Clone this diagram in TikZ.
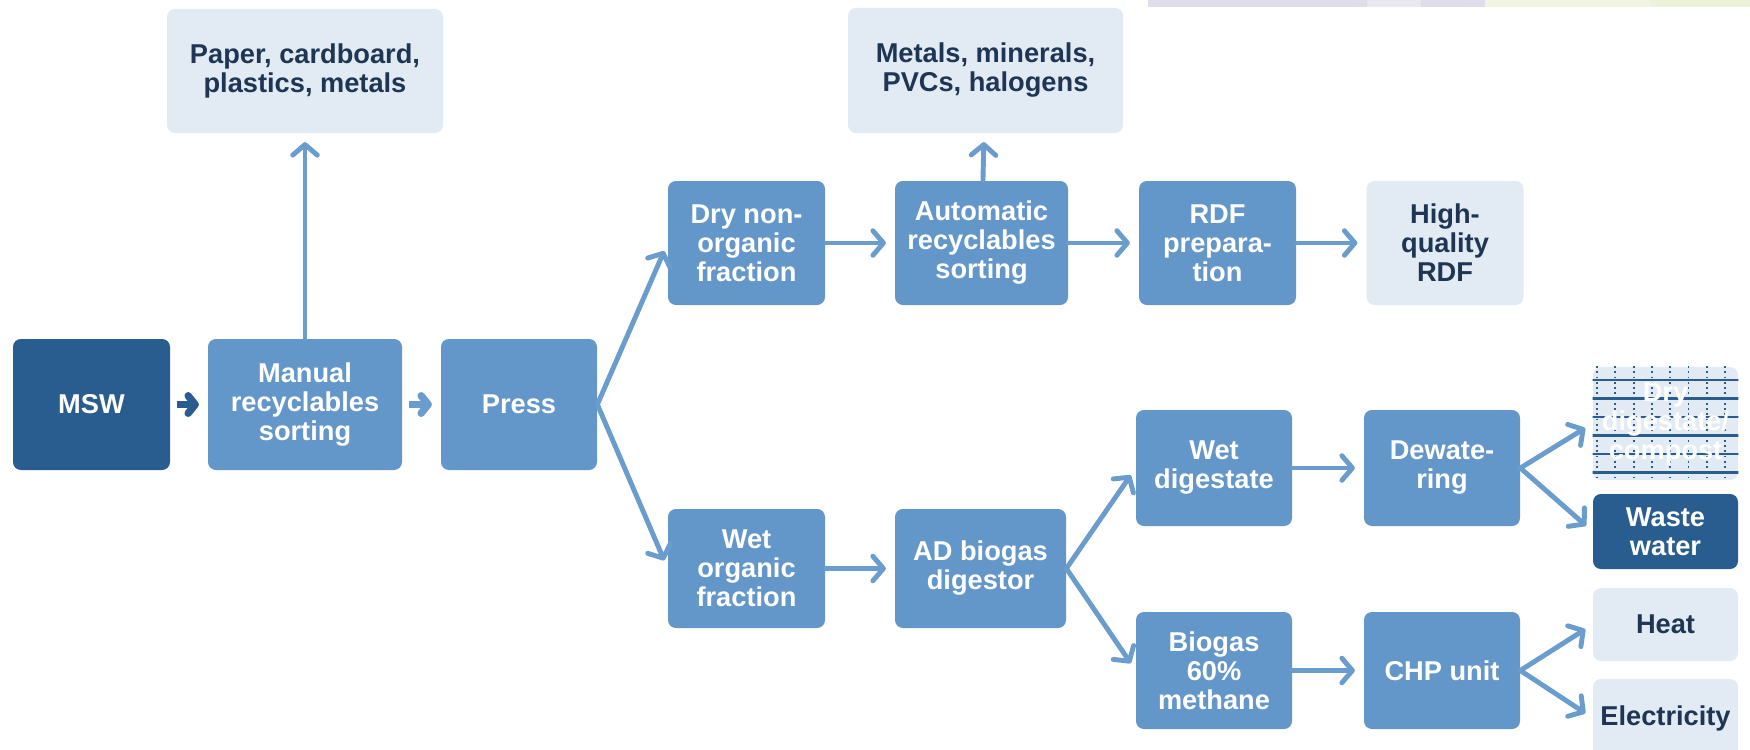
\documentclass[tikz,border=0pt]{standalone}
\usepackage{fontspec}
\setmainfont{Liberation Sans}
\usetikzlibrary{arrows.meta}
\definecolor{mswblue}{HTML}{295D8F}
\definecolor{procblue}{HTML}{6497C9}
\definecolor{arrowblue}{HTML}{6A9DCD}
\definecolor{outfill}{HTML}{E2EAF4}
\definecolor{navytext}{HTML}{1E3553}
\definecolor{stripviolet}{HTML}{DFDDEA}
\definecolor{stripgrey}{HTML}{E8E8EE}
\definecolor{stripgreen}{HTML}{F0F4E0}
\definecolor{stripgreenb}{HTML}{ECF2DA}
\newcommand{\boxfont}{\fontsize{15.5}{16.5}\selectfont\bfseries}
\begin{document}
\begin{tikzpicture}[x=0.02cm, y=-0.02cm,
  sz/.style 2 args={minimum width=#1*0.02cm, minimum height=#2*0.02cm},
  proc/.style={rectangle, rounded corners=4.5pt, fill=procblue, text=white, font=\boxfont, align=center, inner sep=0pt, sz={157}{124}},
  msw node/.style={proc, fill=mswblue},
  out node/.style={proc, fill=outfill, text=navytext},
  flow/.style={draw=arrowblue, line width=2.8pt, line cap=round, -{Straight Barb[length=6pt,width=14pt,round]}, shorten >=5pt},
  stub/.style={draw=arrowblue, line width=4.2pt, -{Straight Barb[length=4pt,width=10pt,round]}, shorten <=3.5pt, shorten >=5pt}]
\useasboundingbox (0,0) rectangle (1750,750);
\clip (0,0) rectangle (1750,750);
% strip at the top edge
\fill[stripviolet] (1148,0) rectangle (1367,7);
\fill[stripgrey] (1367,0) rectangle (1421,7);
\fill[stripviolet] (1421,0) rectangle (1485,7);
\fill[stripgreen] (1485,0) rectangle (1651,7);
\fill[stripgreenb] (1651,0) rectangle (1750,7);
\begin{scope}
\node[msw node, sz={157}{131}] (msw) at (91.5,404.5) {MSW};
\node[proc, sz={194}{131}] (manual) at (305,404.5) {Manual\\recyclables\\sorting};
\node[proc, sz={156}{131}] (press) at (519,404.5) {Press};
\node[out node, sz={276}{124}] (paper) at (305,71) {Paper, cardboard,\\plastics, metals};
\node[proc] (dry) at (746.5,243) {Dry non-\\organic\\fraction};
\node[proc, sz={173}{124}] (auto) at (981.5,243) {Automatic\\recyclables\\sorting};
\node[out node, sz={275}{125}] (metals) at (985.5,70.5) {Metals, minerals,\\PVCs, halogens};
\node[proc] (rdf) at (1217.5,243) {RDF\\prepara-\\tion};
\node[out node] (hqrdf) at (1445,243) {High-\\quality\\RDF};
\node[proc, sz={157}{119}] (wet) at (746.5,568.5) {Wet\\organic\\fraction};
\node[proc, sz={171}{119}] (ad) at (980.5,568.5) {AD biogas\\digestor};
\node[proc, sz={156}{116}] (wetdig) at (1214,468) {Wet\\digestate};
\node[proc, sz={156}{116}] (dewat) at (1442,468) {Dewate-\\ring};
\node[out node, sz={145}{113}] (drydig) at (1665.5,423.5) {};
\node[msw node, sz={145}{75}] (waste) at (1665.5,531.5) {Waste\\water};
\node[proc, sz={156}{117}] (biogas) at (1214,670.5) {Biogas\\60\%\\methane};
\node[proc, sz={156}{117}] (chp) at (1442,670.5) {CHP unit};
\node[out node, sz={145}{73}] (heat) at (1665.5,624.5) {Heat};
\node[out node, sz={145}{78}] (elec) at (1665.5,718) {Electricity};
\end{scope}
% grid on the dry digestate box
\begin{scope}
\clip (drydig.north west) rectangle (drydig.south east);
\foreach \y in {380,398.5,...,475}
  \draw[mswblue, line width=1.4pt] (1590,\y) -- (1740,\y);
\foreach \x in {1597,1615.3,...,1738}
  \draw[mswblue, line width=1pt, dotted] (\x,366) -- (\x,482);
\end{scope}
\node[font=\boxfont, text=white, align=center] (drydigtxt) at (drydig) {Dry\\digestate/\\compost};
\begin{scope}
\draw[stub, draw=mswblue] (msw) -- (manual);
\draw[stub] (manual) -- (press);
\draw[flow] (manual) -- (paper);
\draw[flow] (press.east) -- (dry.west);
\draw[flow] (press.east) -- (wet.west);
\draw[flow] (dry) -- (auto);
\draw[flow] (auto) -- (metals);
\draw[flow] (auto) -- (rdf);
\draw[flow] (rdf) -- (hqrdf);
\draw[flow] (wet) -- (ad);
\draw[flow] (ad.east) -- (wetdig.west);
\draw[flow] (ad.east) -- (biogas.west);
\draw[flow] (wetdig) -- (dewat);
\draw[flow] (dewat.east) -- (drydig.west);
\draw[flow] (dewat.east) -- (waste.west);
\draw[flow] (biogas) -- (chp);
\draw[flow] (chp.east) -- (heat.west);
\draw[flow] (chp.east) -- (elec.west);
\end{scope}
\end{tikzpicture}
\end{document}
